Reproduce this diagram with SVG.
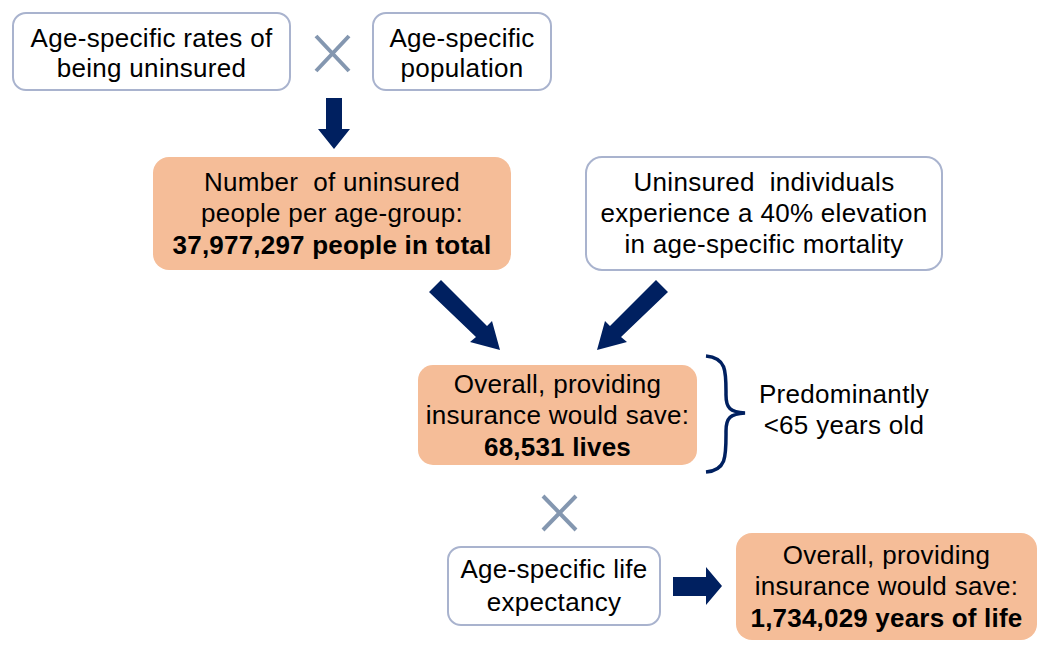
<svg xmlns="http://www.w3.org/2000/svg" width="1050" height="653" viewBox="0 0 1050 653">
<style>
.wbox{fill:#fff;stroke:#A9B3CE;stroke-width:2}
.obox{fill:#F5BD98;stroke:none}
.t{font-family:"Liberation Sans",Arial,sans-serif;font-size:26px;letter-spacing:0.3px;fill:#000;text-anchor:middle;white-space:pre}
.b{font-weight:bold;letter-spacing:0.2px}
.arr{fill:#002060}
.x{stroke:#8497B0;stroke-width:4;fill:none}
</style>
<rect width="1050" height="653" fill="#fff"/>
<g id="n1"><rect class="wbox" x="13" y="13" width="277" height="77" rx="13"/>
<text class="t" x="151.5" y="47">Age-specific rates of</text>
<text class="t" x="151.5" y="77">being uninsured</text></g>
<g id="x1"><path class="x" d="M316 36 L349 71 M349 36 L316 71"/></g>
<g id="n2"><rect class="wbox" x="373" y="13" width="178" height="77" rx="13"/>
<text class="t" x="462" y="47">Age-specific</text>
<text class="t" x="462" y="77">population</text></g>
<g id="n3"><rect class="obox" x="153" y="157" width="358" height="113" rx="16"/>
<text class="t" x="332" y="191">Number  of uninsured</text>
<text class="t" x="332" y="222">people per age-group:</text>
<text class="t b" x="332" y="254">37,977,297 people in total</text></g>
<g id="n4"><rect class="wbox" x="586" y="157" width="356" height="113" rx="16"/>
<text class="t" x="764" y="191">Uninsured  individuals</text>
<text class="t" x="764" y="222">experience a 40% elevation</text>
<text class="t" x="764" y="253">in age-specific mortality</text></g>
<g id="n5"><rect class="obox" x="418" y="365" width="279" height="100" rx="15"/>
<text class="t" x="557.5" y="393">Overall, providing</text>
<text class="t" x="557.5" y="424">insurance would save:</text>
<text class="t b" x="557.5" y="456">68,531 lives</text></g>
<g id="n6"><path d="M706 356 C727 358 726 372 726 395 C726 408 730 412 745 413 C730 414 726 418 726 431 C726 456 727 470 706 472" fill="none" stroke="#002060" stroke-width="3.5"/>
<text class="t" x="844" y="403">Predominantly</text>
<text class="t" x="844" y="434">&lt;65 years old</text></g>
<g id="x2"><path class="x" d="M543 496 L576 530 M576 496 L543 530"/></g>
<g id="n7"><rect class="wbox" x="448" y="547" width="212" height="78" rx="13"/>
<text class="t" x="554" y="578">Age-specific life</text>
<text class="t" x="554" y="611">expectancy</text></g>
<g id="n8"><rect class="obox" x="736" y="533" width="301" height="107" rx="16"/>
<text class="t" x="886.5" y="564">Overall, providing</text>
<text class="t" x="886.5" y="595">insurance would save:</text>
<text class="t b" x="886.5" y="627">1,734,029 years of life</text></g>
<g id="connectors">
<polygon class="arr" points="326,98 342,98 342,129 350,129 334,149 318,129 326,129"/>
<polygon class="arr" points="429,292 441,280 487,326 492,321 500,350 470,342 476,337"/>
<polygon class="arr" points="668,292 656,280 610,326 605,321 597,350 627,342 621,337"/>
<polygon class="arr" points="673,577 706,577 706,567 722,586 706,605 706,596 673,596"/>
</g>
</svg>
